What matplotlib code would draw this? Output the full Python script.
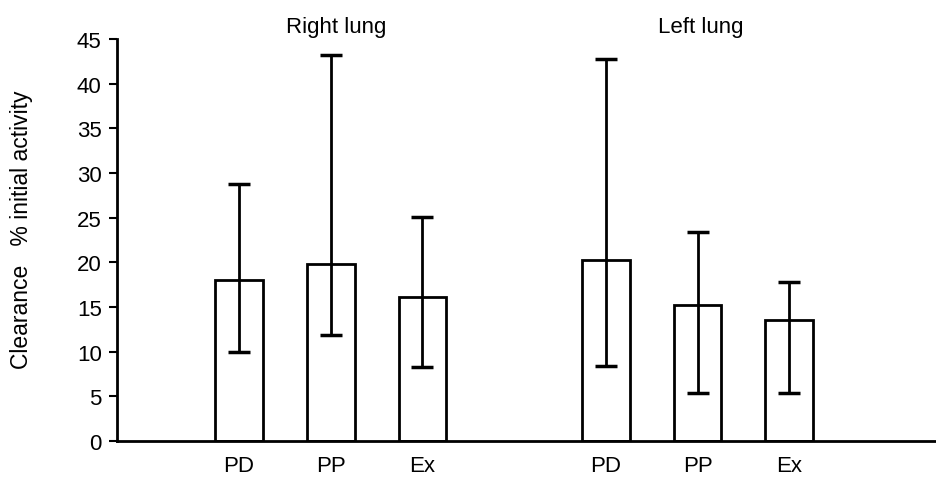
import matplotlib
matplotlib.use("Agg")
import matplotlib.pyplot as plt

plt.rcParams['font.family'] = ['Liberation Sans', 'DejaVu Sans']

# Data
groups = ["Right lung", "Left lung"]
labels = ["PD", "PP", "Ex", "PD", "PP", "Ex"]
positions = [0, 1, 2, 4, 5, 6]
means = [18.0, 19.8, 16.1, 20.3, 15.2, 13.5]
err_top = [28.8, 43.2, 25.1, 42.7, 23.4, 17.8]
err_bottom = [10.0, 11.9, 8.3, 8.4, 5.4, 5.4]

lower = [m - b for m, b in zip(means, err_bottom)]
upper = [t - m for m, t in zip(means, err_top)]

fig = plt.figure(figsize=(9.36, 4.81), dpi=100, facecolor='white')
ax = fig.add_axes([0.125, 0.081, 0.875, 0.836])

ax.bar(positions, means, width=0.52, color='white', edgecolor='black', linewidth=2)
ax.errorbar(positions, means, yerr=[lower, upper], fmt='none', ecolor='black',
            elinewidth=2, capsize=8, capthick=2.5)

ax.set_xlim(-1.33, 7.6)
ax.set_ylim(0, 45)
ax.set_yticks(range(0, 46, 5))
ax.set_xticks(positions)
ax.set_xticklabels(labels, fontsize=16)
ax.tick_params(axis='x', length=0, pad=10)
ax.tick_params(axis='y', labelsize=16, length=6, width=1.5, direction='out', pad=5)
for side in ['top', 'right']:
    ax.spines[side].set_visible(False)
ax.spines['left'].set_linewidth(2)
ax.spines['bottom'].set_linewidth(2)

ax.set_ylabel("Clearance   % initial activity", fontsize=16.5)
ax.yaxis.set_label_coords(-0.103, 0.527)

ax.text(1.06, 1.017, groups[0], transform=ax.get_xaxis_transform(), ha='center',
        va='baseline', fontsize=16)
ax.text(5.03, 1.017, groups[1], transform=ax.get_xaxis_transform(), ha='center',
        va='baseline', fontsize=16)

fig.savefig("out.png", dpi=100, facecolor='white')
